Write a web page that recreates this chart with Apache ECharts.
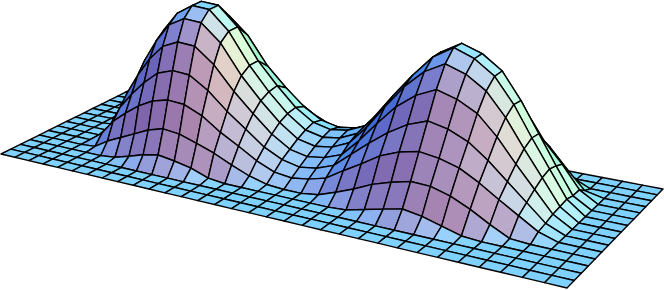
<!DOCTYPE html>
<html><head><meta charset="utf-8">
<style>html,body{margin:0;padding:0;background:#fff}#c{width:664px;height:290px}</style>
<script src="https://cdn.jsdelivr.net/npm/echarts@6/dist/echarts.min.js"></script>
</head><body><div id="c"></div>
<script>
const flat=[0,0,0,0,0,0,0,0,0,0,0,0,0,0,0,0,0,0,0,0,0,0,0,0,0,0,0,0,0,0,0,0,0];
const row3=[0,0,0,0,0,0,.015,.05,.09,.115,.095,.067,.015,0,0,0,0,0,0,0,.01,.045,.08,.113,.09,.05,.01,0,0,0,0,0,0];
const row4=[0,0,0,0,.01,.08,.135,.19,.245,.28,.265,.22,.17,.105,.048,.01,0,0,.02,.07,.125,.19,.235,.27,.265,.225,.16,.08,.01,0,0,0,0];
const row5=[0,0,0,0,.08,.2,.29,.37,.43,.46,.45,.39,.29,.21,.125,.065,.047,.068,.105,.19,.27,.355,.41,.44,.42,.38,.305,.215,.13,.045,0,0,0];
const row6=[0,0,0,0,.11,.275,.4,.51,.6,.64,.63,.54,.41,.3,.19,.12,.09,.11,.16,.27,.38,.48,.56,.61,.58,.52,.42,.3,.18,.06,0,0,0];
const row7=[0,0,0,0,.14,.35,.51,.65,.76,.81,.8,.69,.52,.38,.25,.16,.13,.15,.2,.33,.48,.62,.72,.78,.74,.67,.54,.38,.23,.08,0,0,0];
const row8=[0,0,0,.01,.16,.4,.59,.75,.88,.94,.93,.81,.6,.44,.3,.2,.17,.19,.25,.39,.56,.72,.84,.91,.865,.78,.63,.445,.27,.09,0,0,0];
const row9=[0,0,0,.01,.17,.43,.63,.8,.93,1,.99,.86,.64,.47,.33,.23,.2,.22,.28,.43,.6,.76,.9,.98,.93,.84,.68,.48,.29,.1,0,0,0];
const row10=[0,0,0,.01,.15,.41,.62,.8,.93,1,.99,.86,.64,.48,.34,.25,.22,.24,.3,.44,.6,.76,.9,.975,.93,.84,.67,.47,.27,.08,0,0,0];
const row11=[0,0,0,0,.1,.33,.53,.7,.83,.9,.89,.77,.57,.43,.31,.23,.2,.22,.27,.4,.54,.68,.8,.88,.83,.73,.56,.38,.24,.08,0,0,0];
const row12=[0,0,0,0,.05,.2,.36,.49,.6,.65,.64,.55,.41,.31,.22,.16,.14,.16,.2,.29,.39,.49,.58,.63,.58,.5,.38,.3,.16,.03,0,0,0];
const row13=[0,0,0,0,.01,.08,.17,.25,.32,.35,.34,.29,.21,.16,.11,.08,.07,.08,.1,.15,.2,.26,.31,.34,.3,.27,.25,.17,.06,0,0,0,0];
const row14=[0,0,0,0,0,.01,.03,.05,.07,.08,.08,.07,.05,.04,.03,.02,.02,.02,.02,.03,.05,.06,.07,.08,.1,.14,.1,.04,0,0,0,0,0];
const heights=[flat,flat,flat,row3,row4,row5,row6,row7,row8,row9,row10,row11,row12,row13,row14,flat];
const nU=flat.length-1,nV=heights.length-1;
const quad=[[1,154],[567,288],[663,189],[134,88]];
const Zs=135,Zx=40,kap=.1,Lx=4.6,Ly=1,Lz=.42,th=13*Math.PI/180,cp=.72,sp=.69;
const [[x0,y0],[x1,y1],[x2,y2],[x3,y3]]=quad;
const dx1=x1-x2,dx2=x3-x2,sx=x0-x1+x2-x3,dy1=y1-y2,dy2=y3-y2,sy=y0-y1+y2-y3,det=dx1*dy2-dx2*dy1;
const g=(sx*dy2-dx2*sy)/det,h=(dx1*sy-sx*dy1)/det;
const a=x1-x0+g*x1,b=x3-x0+h*x3,d=y1-y0+g*y1,e=y3-y0+h*y3;
function proj(i,j){const u=i/nU,v=j/nV,z=heights[j][i],w=g*u+h*v+1-kap*z;return [(a*u+b*v+x0-Zx*z)/w,(d*u+e*v+y0-Zs*z)/w];}
const cells=[];
for(let j=0;j<nV;j++)for(let i=0;i<nU;i++){const u=(i+.5)/nU,v=(j+.5)/nV;cells.push([i,j,g*u+h*v+1]);}
cells.sort((p,q)=>q[2]-p[2]);
function shade(i,j,area){
  if(area<0)return '#000';
  const du=((heights[j][i+1]+heights[j+1][i+1])-(heights[j][i]+heights[j+1][i]))/2*Lz/(Lx/nU);
  const dv=((heights[j+1][i]+heights[j+1][i+1])-(heights[j][i]+heights[j][i+1]))/2*Lz/(Ly/nV);
  const L=Math.hypot(du,dv,1),nu=-du/L,nv=-dv/L,nz=1/L;
  const vx=Math.cos(th)*nu+Math.sin(th)*nv,dd=-Math.sin(th)*nu+Math.cos(th)*nv;
  const vy=dd*sp+nz*cp,vz=-dd*cp+nz*sp;
  const cl=t=>Math.round(255*Math.min(1,Math.max(0,t)+.01));
  return `rgb(${cl((vx+vz)/Math.SQRT2)},${cl((vx+vy+vz)/Math.sqrt(3))},${cl((vy+vz)/Math.SQRT2)})`;
}
const chart=echarts.init(document.getElementById('c'),null,{renderer:'canvas'});
chart.setOption({animation:false,
 grid:{left:0,right:0,top:0,bottom:0},
 xAxis:{type:'value',min:0,max:664,show:false},
 yAxis:{type:'value',min:0,max:290,inverse:true,show:false},
 series:[{type:'custom',coordinateSystem:'cartesian2d',clip:false,silent:true,data:cells,
  encode:{x:0,y:1},
  renderItem(params,api){
    const i=api.value(0),j=api.value(1);
    const raw=[proj(i,j),proj(i+1,j),proj(i+1,j+1),proj(i,j+1)];
    const pts=raw.map(p=>api.coord(p));
    let s=0;for(let k=0;k<4;k++){const p=pts[k],q=pts[(k+1)%4];s+=p[0]*q[1]-q[0]*p[1];}
    return {type:'polygon',shape:{points:pts},style:{fill:shade(i,j,-s),stroke:'#000',lineWidth:1.4,lineJoin:'round'}};
  }}]});
</script></body></html>
